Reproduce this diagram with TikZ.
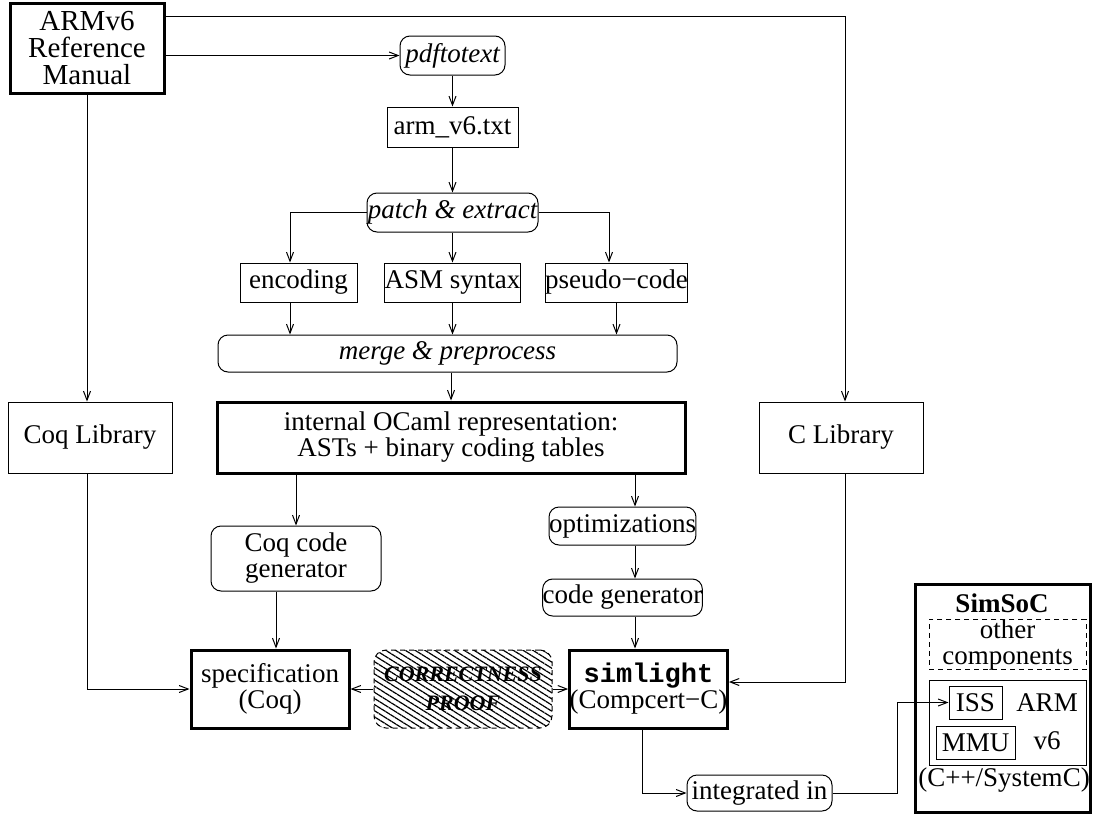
\documentclass[tikz,border=0pt]{standalone}
\usepackage{fontspec}
\setmainfont{Liberation Serif}
\setmonofont{Liberation Mono}
\usetikzlibrary{arrows.meta,patterns.meta}

\begin{document}
\begin{tikzpicture}[x=0.5pt,y=-0.5pt,line width=0.5pt,
    >={Straight Barb[length=4.5pt,width=3.5pt]}]
  \tikzstyle{every node}=[inner sep=0pt,align=center,font=\fontsize{13.5}{13}\selectfont]
  \tikzstyle{sqbox}=[draw]
  \tikzstyle{thickbox}=[draw,line width=1.5pt]
  \tikzstyle{toolbox}=[draw,rounded corners=5pt,font=\fontsize{13.5}{13}\selectfont\itshape]
  \tikzstyle{rbox}=[draw,rounded corners=5pt]
  \tikzstyle{dashbox}=[draw,dash pattern=on 2.5pt off 2pt]
  \tikzstyle{proofbox}=[dashbox,rounded corners=6pt,
    pattern={Lines[angle=-32,distance=2.6pt,line width=0.6pt]},
    font=\fontsize{11}{14.5}\selectfont\bfseries\itshape]
  \useasboundingbox (0,0) rectangle (1093,814);

  \node[thickbox,minimum width=77pt,minimum height=45pt,font=\fontsize{14.5}{13.5}\selectfont]
    (ref) at (87,48) {ARMv6\\Reference\\Manual};
  \node[toolbox,minimum width=52.5pt,minimum height=19.5pt] (pdf) at (452.5,55.5) {pdftotext};
  \node[sqbox,minimum width=65.5pt,minimum height=20pt] (txt) at (452.5,127) {arm\_v6.txt};
  \node[toolbox,minimum width=85.5pt,minimum height=19.5pt] (patch) at (452.5,212.5) {patch \& extract};
  \node[sqbox,minimum width=58.5pt,minimum height=19.5pt] (enc) at (298.5,282.5) {encoding};
  \node[sqbox,minimum width=65.5pt,minimum height=19.5pt] (asm) at (452.5,282.5) {ASM syntax};
  \node[sqbox,minimum width=66.5pt,minimum height=19.5pt] (pseudo) at (616.5,282.5) {pseudo−code};
  \node[toolbox,minimum width=229.5pt,minimum height=18.5pt] (merge) at (447.5,353.5) {merge \& preprocess};
  \node[sqbox,minimum width=82pt,minimum height=35.5pt] (coqlib) at (90,437.5) {Coq Library};
  \node[thickbox,minimum width=234pt,minimum height=35.5pt] (ocaml) at (451,437.5)
    {internal OCaml representation:\\ASTs + binary coding tables};
  \node[sqbox,minimum width=82pt,minimum height=35.5pt] (clib) at (841,437.5) {C Library};
  \node[rbox,minimum width=85pt,minimum height=32.5pt] (coqgen) at (296,558.5) {Coq code\\generator};
  \node[rbox,minimum width=58.5pt,minimum height=19pt] (opt) at (622.5,526) {optimizations};
  \node[rbox,minimum width=65.5pt,minimum height=18.5pt] (codegen) at (622.5,597.5) {code generator};
  \node[thickbox,minimum width=79pt,minimum height=39pt] (spec) at (270,689) {specification\\(Coq)};
  \node[proofbox,minimum width=89pt,minimum height=39pt] (proof) at (463,689) {CORRECTNESS\\PROOF};
  \node[thickbox,minimum width=78.5pt,minimum height=39pt] (sim) at (648.5,689)
    {{\ttfamily\bfseries simlight}\\(Compcert−C)};
  \node[rbox,minimum width=72.5pt,minimum height=18pt] (integ) at (759.5,793) {integrated in};

  \node[thickbox,minimum width=87.5pt,minimum height=114pt] (simsoc) at (1002.5,698) {};
  \node[font=\fontsize{13.5}{13}\selectfont\bfseries] (simsoclbl) at (1002,603) {SimSoC};
  \node[dashbox,minimum width=78.5pt,minimum height=22.5pt] (other) at (1007.5,644.5) {other\\components};
  \node[sqbox,minimum width=78.5pt,minimum height=42.5pt] (armcore) at (1007.5,722.5) {};
  \node[sqbox,minimum width=26.5pt,minimum height=16.5pt] (iss) at (975.5,702.5) {ISS};
  \node[sqbox,minimum width=39.5pt,minimum height=16.5pt] (mmu) at (975.5,742.5) {MMU};
  \node (armlbl) at (1047,703) {ARM};
  \node (v6lbl) at (1047,741) {v6};
  \node (lang) at (1004,780) {(C++/SystemC)};

  \coordinate (topright) at (845,16);
  \coordinate (encx) at (290,0);
  \coordinate (pseudox) at (609,0);
  \coordinate (simx) at (635,0);
  \coordinate (specx) at (276,0);
  \coordinate (libx) at (87,0);
  \coordinate (outx) at (642,0);
  \coordinate (bendx) at (897,0);

  \draw[->] (pdf.west -| ref.east) -- (pdf.west);
  \draw[->] (ref.east |- topright) -- (topright) -- (topright |- clib.north);
  \draw[->] (ref.south) -- (ref.south |- coqlib.north);
  \draw[->] (pdf) -- (txt);
  \draw[->] (txt) -- (patch);
  \draw[->] (patch) -- (asm);
  \draw[->] (patch.west) -| (encx |- enc.north);
  \draw[->] (patch.east) -| (pseudox |- pseudo.north);
  \draw[->] (encx |- enc.south) -- (encx |- merge.north);
  \draw[->] (asm.south) -- (asm.south |- merge.north);
  \draw[->] (pseudo.south) -- (pseudo.south |- merge.north);
  \draw[->] (ocaml.north |- merge.south) -- (ocaml.north);
  \draw[->] (coqgen.north |- ocaml.south) -- (coqgen.north);
  \draw[->] (simx |- ocaml.south) -- (simx |- opt.north);
  \draw[->] (simx |- opt.south) -- (simx |- codegen.north);
  \draw[->] (simx |- codegen.south) -- (simx |- sim.north);
  \draw[->] (specx |- coqgen.south) -- (specx |- spec.north);
  \draw[->] (libx |- coqlib.south) |- (spec.west);
  \draw[->] (proof.west) -- (spec.east);
  \draw[->] (proof.east) -- (sim.west);
  \draw[->] (topright |- clib.south) |- ([yshift=3.5pt]sim.east);
  \draw[->] (outx |- sim.south) |- (integ.west);
  \draw[->] (integ.east) -| (bendx |- iss.west) -- (iss.west);
\end{tikzpicture}
\end{document}
